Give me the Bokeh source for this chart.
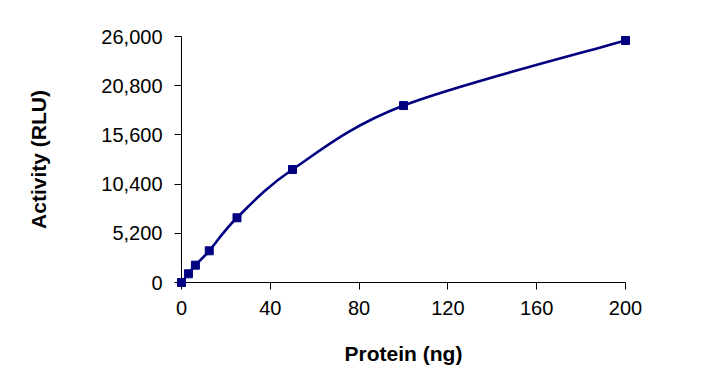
from bokeh.plotting import figure
from bokeh.models import Range1d, FixedTicker, NumeralTickFormatter
from bokeh.embed import file_html
from bokeh.resources import INLINE

# Data
protein_ng = [0, 3.125, 6.25, 12.5, 25, 50, 100, 200]
activity_rlu = [0, 920, 1830, 3350, 6840, 11940, 18700, 25580]
x_ticks = [0, 40, 80, 120, 160, 200]
y_ticks = [0, 5200, 10400, 15600, 20800, 26000]

LINE = "#000080"
FONT = "Liberation Sans"

p = figure(width=694, height=373, output_backend="svg", toolbar_location=None,
           x_range=Range1d(0, 200), y_range=Range1d(0, 26000))
p.min_border_left = 181
p.min_border_right = 69
p.min_border_top = 36
p.min_border_bottom = 91
p.outline_line_color = None
p.xgrid.visible = False
p.ygrid.visible = False
p.background_fill_color = "white"
p.border_fill_color = "white"

# smooth (Catmull-Rom -> cubic Bezier) segments computed from the data
n = len(protein_ng)
x0s, y0s, x1s, y1s, cx0s, cy0s, cx1s, cy1s = [], [], [], [], [], [], [], []
for i in range(n - 1):
    xm = protein_ng[max(i - 1, 0)]; ym = activity_rlu[max(i - 1, 0)]
    xa = protein_ng[i]; ya = activity_rlu[i]
    xb = protein_ng[i + 1]; yb = activity_rlu[i + 1]
    xp = protein_ng[min(i + 2, n - 1)]; yp = activity_rlu[min(i + 2, n - 1)]
    x0s.append(xa); y0s.append(ya); x1s.append(xb); y1s.append(yb)
    cx0s.append(xa + (xb - xm) / 6); cy0s.append(ya + (yb - ym) / 6)
    cx1s.append(xb - (xp - xa) / 6); cy1s.append(yb - (yp - ya) / 6)

p.bezier(x0=x0s, y0=y0s, x1=x1s, y1=y1s, cx0=cx0s, cy0=cy0s, cx1=cx1s, cy1=cy1s,
         line_color=LINE, line_width=2.6, level="overlay")
p.scatter(protein_ng, activity_rlu, marker="square", size=8,
          fill_color=LINE, line_color=LINE, level="overlay")

for ax in (p.xaxis[0], p.yaxis[0]):
    ax.axis_line_color = "black"
    ax.axis_line_width = 1
    ax.major_tick_line_color = "black"
    ax.major_tick_out = 7
    ax.major_tick_in = 0
    ax.minor_tick_line_color = None
    ax.major_label_text_font = FONT
    ax.major_label_text_font_size = "20px"
    ax.major_label_text_color = "black"
    ax.axis_label_text_font = FONT
    ax.axis_label_text_font_size = "21px"
    ax.axis_label_text_font_style = "bold"
    ax.axis_label_text_color = "black"

p.xaxis.ticker = FixedTicker(ticks=x_ticks)
p.yaxis.ticker = FixedTicker(ticks=y_ticks)
p.yaxis.formatter = NumeralTickFormatter(format="0,0")
p.xaxis.axis_label = "Protein (ng)"
p.yaxis.axis_label = "Activity (RLU)"
p.xaxis.major_label_standoff = 11
p.yaxis.major_label_standoff = 12
p.xaxis.axis_label_standoff = 24
p.yaxis.axis_label_standoff = 48

open("out.html", "w").write(file_html(p, INLINE))
